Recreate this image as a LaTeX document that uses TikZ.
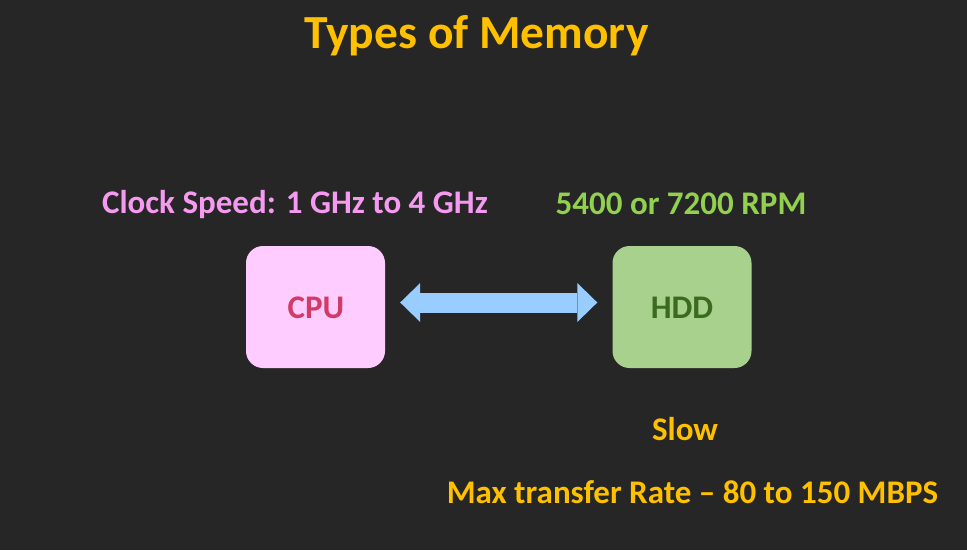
\documentclass[tikz,border=0pt]{standalone}
\usepackage{fontspec}
\setmainfont{Carlito}
\usetikzlibrary{arrows.meta}
\definecolor{bg}{HTML}{262626}
\definecolor{gold}{HTML}{FFC000}
\definecolor{pinktxt}{HTML}{F59AF0}
\definecolor{greentxt}{HTML}{92D050}
\definecolor{cpufill}{HTML}{FFCCFF}
\definecolor{cputxt}{HTML}{D13B65}
\definecolor{hddfill}{HTML}{A9D18E}
\definecolor{hddtxt}{HTML}{3B6B1F}
\definecolor{link}{HTML}{99CCFF}
\newcommand{\fs}[1]{\fontsize{#1}{#1}\selectfont\bfseries}
\begin{document}
\begin{tikzpicture}[x=1pt,y=-1pt,
  label/.style={anchor=base,inner sep=0pt},
  unit/.style={rounded corners=17pt,minimum width=139pt,minimum height=122pt,inner sep=0pt}]
\fill[bg] (0,0) rectangle (967,550);
\useasboundingbox (0,0) rectangle (967,550);
% title
\node[label,text=gold] (title) at (476.5,48) {\fs{47.5}Types of Memory};
% side captions
\node[label,text=pinktxt] (clock) at (295,213.5) {\fs{33}Clock Speed: 1 GHz to 4 GHz};
\node[label,text=greentxt] (rpm) at (681,214) {\fs{33}5400 or 7200 RPM};
% the two units
\node[unit,fill=cpufill] (cpu) at (315.5,307) {};
\node[unit,fill=hddfill] (hdd) at (682,307) {};
\node[label,text=cputxt] at (316,318) {\fs{33}CPU};
\node[label,text=hddtxt] at (682,318) {\fs{33}HDD};
% two-way link
\draw[link,line width=20pt,shorten <=15pt,shorten >=15pt,
  {Triangle[width=39pt,length=20pt,line width=0pt]}-{Triangle[width=39pt,length=20pt,line width=0pt]}]
  ([yshift=4.5pt]cpu.east) -- ([yshift=4.5pt]hdd.west);
% notes
\node[label,text=gold] (slow) at (685,440) {\fs{33}Slow};
\node[label,text=gold] (rate) at (692.5,503) {\fs{33}Max transfer Rate – 80 to 150 MBPS};
\end{tikzpicture}
\end{document}
